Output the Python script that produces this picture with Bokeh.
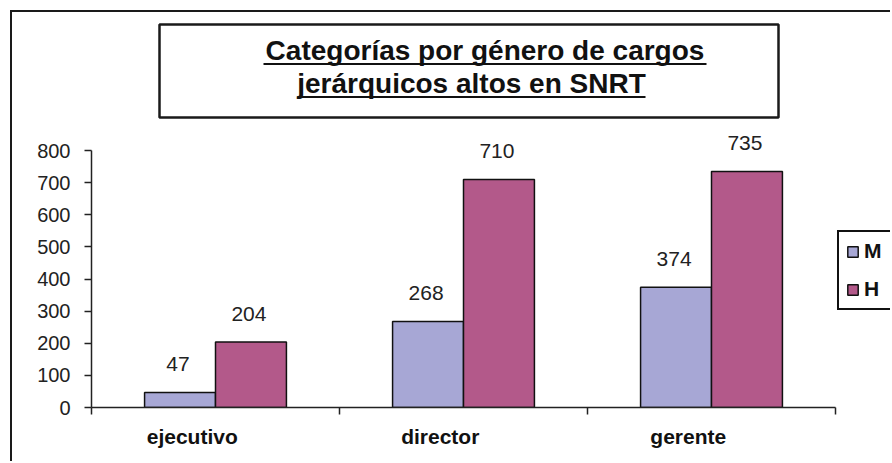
from bokeh.plotting import figure
from bokeh.models import (Range1d, FixedTicker, LinearAxis, BoxAnnotation,
                          ColumnDataSource, Legend, LegendItem)
from bokeh.core.properties import value
from bokeh.embed import file_html
from bokeh.resources import INLINE

# ---- data ----
categories = ["ejecutivo", "director", "gerente"]
series_names = ["M", "H"]
values_m = [47, 268, 374]
values_h = [204, 710, 735]
y_ticks = [0, 100, 200, 300, 400, 500, 600, 700, 800]
title_lines = ["Categorías por género de cargos", "jerárquicos altos en SNRT"]

color_m = "#a7a7d5"
color_h = "#b3598a"
FONT = "Liberation Sans"

# ---- layout (picture px; canvas starts at OX, OY inside the outer border) ----
OX, OY = 12, 12
W, H = 892 - OX, 463 - OY
FL, FR, FT, FB = 91, 890, 14, 407          # frame edges (picture px)
Y_AT_800 = 150
px_per_y = (FB - Y_AT_800) / 800.0
px_per_x = (835 - FL) / 3.0

def dx(px):
    return (px - FL) / px_per_x

def dy(py):
    return (FB - py) / px_per_y

p = figure(width=W, height=H, output_backend="svg", toolbar_location=None,
           x_range=Range1d(0, dx(FR)), y_range=Range1d(0, dy(FT)),
           x_axis_type=None, y_axis_type=None,
           min_border_left=FL - OX, min_border_right=W + OX - FR,
           min_border_top=FT - OY, min_border_bottom=H + OY - FB)
# outer chart border (left and top edges)
p.styles = {"margin-left": "10px", "margin-top": "10px",
            "border-left": "2px solid #1a1a1a", "border-top": "2px solid #1a1a1a"}
p.outline_line_color = None
p.xgrid.visible = False
p.ygrid.visible = False
p.background_fill_color = "white"
p.border_fill_color = "white"

n = len(categories)
bar_w = 0.286
xm = [i + 0.5 - bar_w / 2 for i in range(n)]
xh = [i + 0.5 + bar_w / 2 for i in range(n)]

src_m = ColumnDataSource(dict(x=xm, top=values_m, lab=[str(v) for v in values_m]))
src_h = ColumnDataSource(dict(x=xh, top=values_h, lab=[str(v) for v in values_h]))

rm = p.vbar(x="x", top="top", bottom=0, width=bar_w, source=src_m,
            fill_color=color_m, line_color="#111", line_width=1.5)
rh = p.vbar(x="x", top="top", bottom=0, width=bar_w, source=src_h,
            fill_color=color_h, line_color="#111", line_width=1.5)

for src in (src_m, src_h):
    p.text(x="x", y="top", text="lab", source=src, y_offset=-28, x_offset=-2,
           text_align="center", text_baseline="middle",
           text_font=value(FONT), text_font_size="21px", text_color="#222")

# ---- axes ----
yaxis = LinearAxis(ticker=FixedTicker(ticks=y_ticks), bounds=(0, 800))
yaxis.major_tick_in = 0
yaxis.major_tick_out = 7
yaxis.minor_tick_out = 0
yaxis.minor_tick_in = 0
yaxis.axis_line_color = "#222"
yaxis.axis_line_width = 1.5
yaxis.major_tick_line_color = "#222"
yaxis.major_tick_line_width = 1.5
yaxis.major_label_standoff = 14
yaxis.major_label_text_font = FONT
yaxis.major_label_text_font_size = "20px"
yaxis.major_label_text_color = "#222"
p.add_layout(yaxis, "left")

shift = 0.09375
label_pos = [i + 0.5 - shift for i in range(n)]
xaxis = LinearAxis(ticker=FixedTicker(ticks=label_pos, minor_ticks=list(range(n + 1))),
                   bounds=(0, n))
xaxis.major_label_overrides = {pos: c for pos, c in zip(label_pos, categories)}
xaxis.major_tick_in = 0
xaxis.major_tick_out = 0
xaxis.minor_tick_in = 0
xaxis.minor_tick_out = 7
xaxis.minor_tick_line_color = "#222"
xaxis.minor_tick_line_width = 1.5
xaxis.axis_line_color = "#222"
xaxis.axis_line_width = 1.5
xaxis.major_label_standoff = 10
xaxis.major_label_text_font = FONT
xaxis.major_label_text_font_style = "bold"
xaxis.major_label_text_font_size = "21px"
xaxis.major_label_text_color = "#111"
p.add_layout(xaxis, "below")

# ---- title box ----
p.add_layout(BoxAnnotation(left=dx(159), right=dx(778), top=dy(24), bottom=dy(117),
                           fill_color="white", fill_alpha=1.0,
                           line_color="#1a1a1a", line_alpha=1.0, line_width=2.5,
                           level="underlay"))
title_x = [484.5, 471]
title_base = [60, 93]
title_half = [221.5, 174]
p.text(x=[dx(c) for c in title_x], y=[dy(b - 10) for b in title_base], text=title_lines,
       text_align="center", text_baseline="middle",
       text_font=value(FONT), text_font_style="bold", text_font_size="28px",
       text_color="#111")
p.segment(x0=[dx(title_x[i] - title_half[i]) for i in range(2)],
          y0=[dy(title_base[i] + 3.5) for i in range(2)],
          x1=[dx(title_x[i] + title_half[i]) for i in range(2)],
          y1=[dy(title_base[i] + 3.5) for i in range(2)],
          line_color="#111", line_width=2)

# ---- legend ----
legend = Legend(items=[LegendItem(label=series_names[0], renderers=[rm]),
                       LegendItem(label=series_names[1], renderers=[rh])],
                location=(837 - FL, FB - 310), orientation="vertical")
legend.margin = 0
legend.padding = 7
legend.spacing = 14
legend.glyph_width = 13
legend.glyph_height = 13
legend.label_height = 24
legend.label_width = 22
legend.label_standoff = 5
legend.label_text_font = FONT
legend.label_text_font_style = "bold"
legend.label_text_font_size = "21px"
legend.label_text_color = "#111"
legend.border_line_color = "#111"
legend.border_line_alpha = 1.0
legend.border_line_width = 2
legend.background_fill_alpha = 1.0
p.add_layout(legend)

open("out.html", "w").write(file_html(p, INLINE))
